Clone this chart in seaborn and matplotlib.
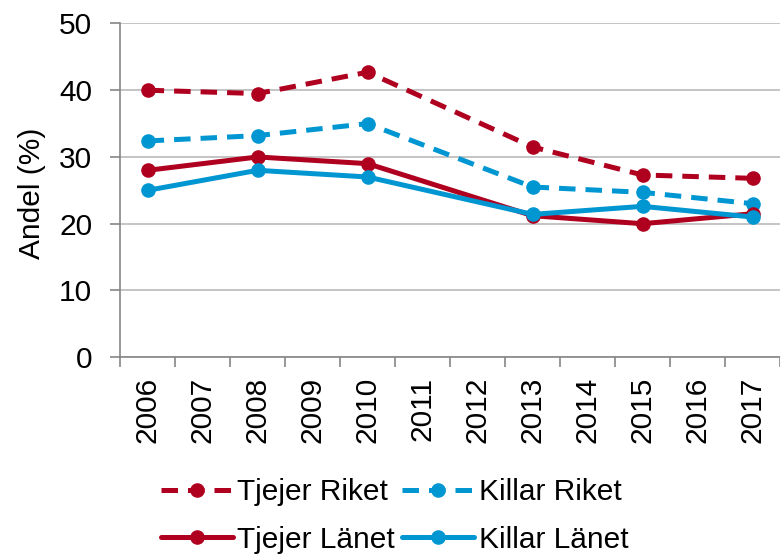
import matplotlib
matplotlib.use("Agg")
import matplotlib.pyplot as plt
import seaborn as sns
import pandas as pd

# data
all_years = list(range(2006, 2018))
years = [2006, 2008, 2010, 2013, 2015, 2017]
tjejer_riket = [40.0, 39.5, 42.7, 31.5, 27.3, 26.8]
killar_riket = [32.4, 33.2, 35.0, 25.5, 24.7, 23.0]
tjejer_lanet = [28.0, 30.0, 29.0, 21.2, 20.0, 21.5]
killar_lanet = [25.0, 28.0, 27.0, 21.4, 22.6, 21.0]

RED = "#B0001F"
BLUE = "#0096D2"

sns.set_theme(style="white")
plt.rcParams["font.family"] = ["Liberation Sans", "DejaVu Sans"]
plt.rcParams["text.color"] = "black"
plt.rcParams["axes.labelcolor"] = "black"
plt.rcParams["xtick.labelcolor"] = "black"
plt.rcParams["ytick.labelcolor"] = "black"

df = pd.DataFrame({
    "year": years * 4,
    "value": tjejer_riket + killar_riket + tjejer_lanet + killar_lanet,
    "serie": (["Tjejer Riket"] * 6 + ["Killar Riket"] * 6
              + ["Tjejer Länet"] * 6 + ["Killar Länet"] * 6),
})

styles = {
    "Tjejer Riket": (RED, (0, (3.3, 2.0))),
    "Killar Riket": (BLUE, (0, (3.3, 2.0))),
    "Tjejer Länet": (RED, "-"),
    "Killar Länet": (BLUE, "-"),
}

FS = 21.5

fig = plt.figure(figsize=(7.8, 5.59), dpi=100)
ax = fig.add_axes([0.154, 0.361, 0.846, 0.597])

for name, (col, ls) in styles.items():
    sub = df[df["serie"] == name]
    sns.lineplot(data=sub, x="year", y="value", ax=ax, color=col,
                 linestyle=ls, linewidth=3.6, marker="o", markersize=10.5,
                 markeredgecolor=col, markeredgewidth=0, label=name)

if ax.get_legend() is not None:
    ax.get_legend().remove()

# axes styling
ax.set_ylim(0, 50)
ax.set_yticks(range(0, 51, 10))
ax.set_xlim(all_years[0] - 0.5, all_years[-1] + 0.5)
ax.set_xticks(all_years)
ax.set_xticklabels([str(y) for y in all_years], rotation=90, fontsize=FS)
ax.set_xticks([y - 0.5 for y in all_years] + [all_years[-1] + 0.5], minor=True)
ax.tick_params(axis="x", which="major", length=0, pad=14)
ax.tick_params(axis="x", which="minor", length=7, width=1.2, color="#868686",
               direction="out", bottom=True)
ax.tick_params(axis="y", length=7, width=1.2, color="#868686", direction="out",
               left=True, labelsize=FS, pad=13)
ax.yaxis.grid(True, color="#BFBFBF", linewidth=1.3)
ax.xaxis.grid(False)
ax.set_axisbelow(True)
for side in ["top", "right"]:
    ax.spines[side].set_visible(False)
for side in ["left", "bottom"]:
    ax.spines[side].set_color("#868686")
    ax.spines[side].set_linewidth(1.2)

ax.set_xlabel("")
ax.set_ylabel("Andel (%)", fontsize=FS)
ax.yaxis.set_label_coords(-0.112, 0.49)

handles, labels = ax.get_legend_handles_labels()
order = [labels.index(n) for n in ["Tjejer Riket", "Tjejer Länet",
                                   "Killar Riket", "Killar Länet"]]
fig.legend([handles[i] for i in order], [labels[i] for i in order],
           loc="center", bbox_to_anchor=(0.506, 0.077), ncol=2,
           frameon=False, fontsize=FS, handlelength=2.4, handletextpad=0.15,
           columnspacing=0.25, labelspacing=0.65, borderpad=0)

fig.savefig("out.png", dpi=100)
